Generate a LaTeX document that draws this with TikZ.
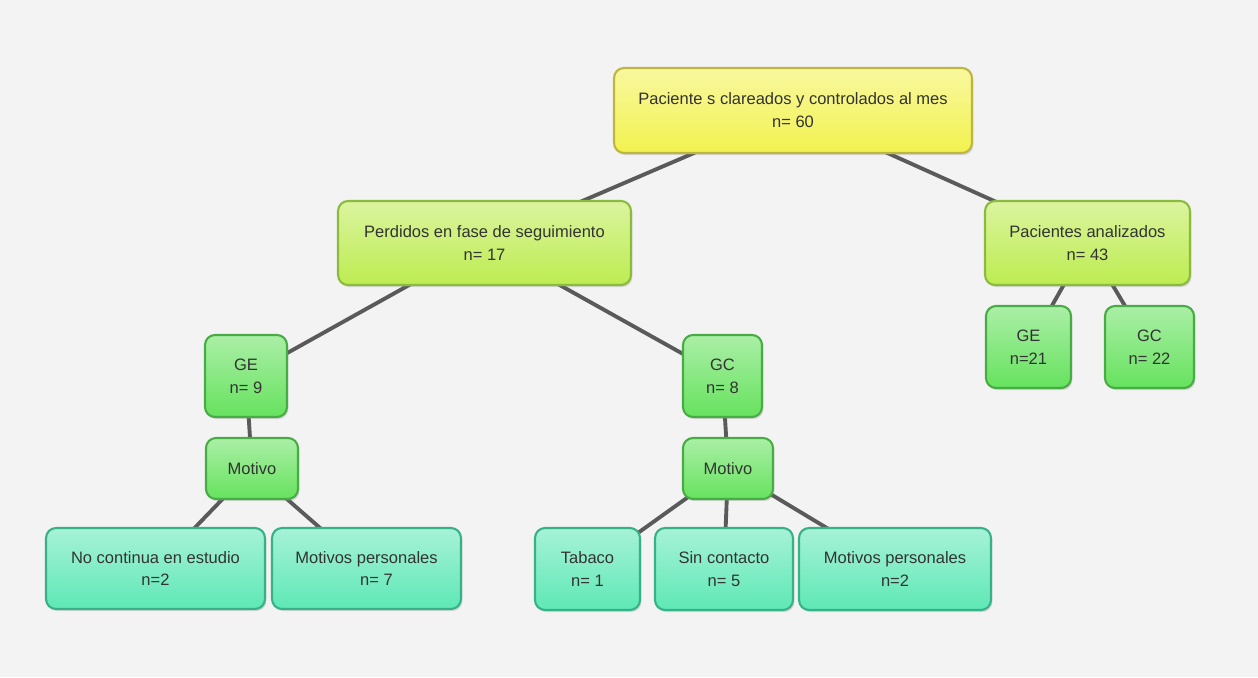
\documentclass[tikz,border=0pt]{standalone}
\usepackage{fontspec}
\setmainfont{Liberation Sans}
\usepackage{xcolor}
\usetikzlibrary{shadows}

\definecolor{paper}{HTML}{F3F3F3}
\definecolor{linkgray}{HTML}{5A5A5A}
\definecolor{inkgray}{HTML}{333333}
\definecolor{yellowfill}{HTML}{F2F250}
\definecolor{yellowedge}{HTML}{BDB640}
\definecolor{limefill}{HTML}{BDEC50}
\definecolor{limeedge}{HTML}{8CBA3E}
\definecolor{greenfill}{HTML}{66E25E}
\definecolor{greenedge}{HTML}{48AC44}
\definecolor{mintfill}{HTML}{5EE8B6}
\definecolor{mintedge}{HTML}{38B088}

\pgfdeclarelayer{paperlayer}
\pgfdeclarelayer{linklayer}
\pgfsetlayers{paperlayer,linklayer,main}

\tikzset{
  box/.style={rounded corners=0.2cm, line width=1.2pt, inner sep=0pt, align=center,
    text=inkgray, font=\fontsize{9.4}{13}\selectfont,
    drop shadow={opacity=0.25, shadow xshift=0.8pt, shadow yshift=-1.2pt}},
  yellowbox/.style={box, draw=yellowedge, top color=yellowfill!55!white, bottom color=yellowfill},
  limebox/.style={box, draw=limeedge, top color=limefill!55!white, bottom color=limefill},
  greenbox/.style={box, draw=greenedge, top color=greenfill!55!white, bottom color=greenfill},
  mintbox/.style={box, draw=mintedge, top color=mintfill!55!white, bottom color=mintfill},
  link/.style={draw=linkgray, line width=2.2pt}
}

\begin{document}
\begin{tikzpicture}[x=0.02cm, y=-0.02cm]
  \useasboundingbox (0,0) rectangle (1258,677);
  \begin{pgfonlayer}{paperlayer}
    \fill[paper] (0,0) rectangle (1258,677);
  \end{pgfonlayer}

  % top level
  \node[yellowbox, minimum width=7.16cm, minimum height=1.7cm] (root) at (793,110.5)
    {Paciente s clareados y controlados al mes\\n= 60};

  % second level
  \node[limebox, minimum width=5.86cm, minimum height=1.68cm] (lost) at (484.5,243)
    {Perdidos en fase de seguimiento\\n= 17};
  \node[limebox, minimum width=4.1cm, minimum height=1.68cm] (done) at (1087.5,243)
    {Pacientes analizados\\n= 43};

  % groups
  \node[greenbox, minimum width=1.64cm, minimum height=1.64cm] (lostge) at (246,376) {GE\\n= 9};
  \node[greenbox, minimum width=1.58cm, minimum height=1.64cm] (lostgc) at (722.5,376) {GC\\n= 8};
  \node[greenbox, minimum width=1.7cm, minimum height=1.64cm] (donege) at (1028.5,347) {GE\\n=21};
  \node[greenbox, minimum width=1.78cm, minimum height=1.64cm] (donegc) at (1149.5,347) {GC\\n= 22};

  % reasons
  \node[greenbox, minimum width=1.84cm, minimum height=1.22cm] (whyge) at (252,468.5) {Motivo};
  \node[greenbox, minimum width=1.8cm, minimum height=1.22cm] (whygc) at (728,468.5) {Motivo};

  % leaves
  \node[mintbox, minimum width=4.38cm, minimum height=1.62cm] (gestop) at (155.5,568.5)
    {No continua en estudio\\n=2};
  \node[mintbox, minimum width=3.78cm, minimum height=1.62cm] (geown) at (366.5,568.5)
    {Motivos personales\\\hspace*{1.2em}n= 7};
  \node[mintbox, minimum width=2.1cm, minimum height=1.64cm] (gcsmoke) at (587.5,569)
    {Tabaco\\n= 1};
  \node[mintbox, minimum width=2.76cm, minimum height=1.64cm] (gcgone) at (724,569)
    {Sin contacto\\n= 5};
  \node[mintbox, minimum width=3.84cm, minimum height=1.64cm] (gcown) at (895,569)
    {Motivos personales\\n=2};

  \begin{pgfonlayer}{linklayer}
    \draw[link] (root.center) -- (lost.center);
    \draw[link] (root.center) -- (done.center);
    \draw[link] (lost.center) -- (lostge.center);
    \draw[link] (lost.center) -- (lostgc.center);
    \draw[link] (done.center) -- (donege.center);
    \draw[link] (done.center) -- (donegc.center);
    \draw[link] (lostge.center) -- (whyge.center);
    \draw[link] (lostgc.center) -- (whygc.center);
    \draw[link] (whyge.center) -- (gestop.center);
    \draw[link] (whyge.center) -- (geown.center);
    \draw[link] (whygc.center) -- (gcsmoke.center);
    \draw[link] (whygc.center) -- (gcgone.center);
    \draw[link] (whygc.center) -- (gcown.center);
  \end{pgfonlayer}
\end{tikzpicture}
\end{document}
